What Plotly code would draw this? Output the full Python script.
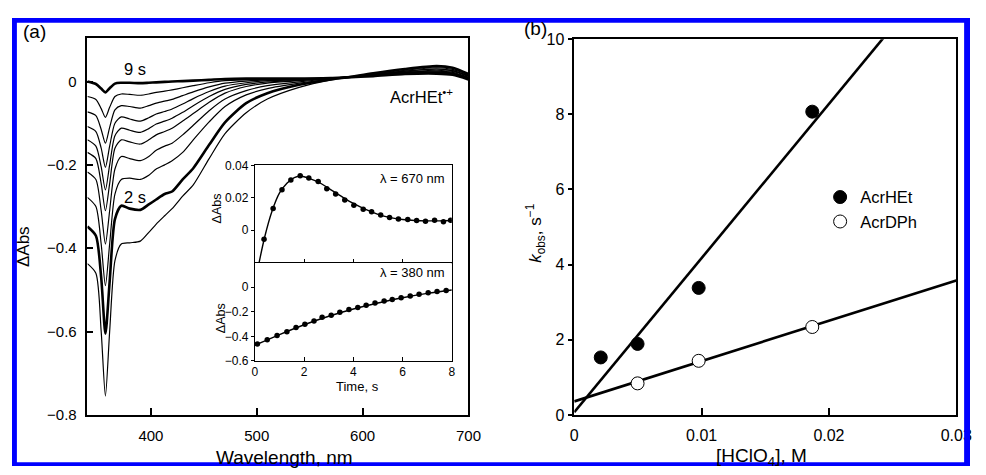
import plotly.graph_objects as go

# ---------------- data ----------------
wavelength = [340, 348, 353, 357, 361, 366, 372, 380, 390, 398, 405, 413, 420, 430,
              440, 455, 470, 490, 510, 540, 570, 585, 610, 640, 670, 685, 700]

spec_9s = [0.000, -0.006, -0.017, -0.026, -0.016, -0.005, -0.003, -0.003, -0.004, -0.003, -0.002, -0.001, 0.000, 0.001,
           0.002, 0.004, 0.006, 0.007, 0.007, 0.007, 0.008, 0.010, 0.013, 0.018, 0.019, 0.016, 0.005]
spec_b = [-0.036, -0.043, -0.065, -0.086, -0.062, -0.036, -0.030, -0.031, -0.033, -0.030, -0.026, -0.023, -0.020, -0.015,
          -0.010, -0.003, 0.002, 0.004, 0.005, 0.006, 0.008, 0.010, 0.014, 0.019, 0.021, 0.018, 0.006]
spec_c = [-0.073, -0.082, -0.115, -0.148, -0.110, -0.068, -0.058, -0.060, -0.064, -0.058, -0.052, -0.047, -0.043, -0.034,
          -0.025, -0.013, -0.004, 0.001, 0.004, 0.005, 0.008, 0.010, 0.014, 0.020, 0.022, 0.019, 0.008]
spec_d = [-0.108, -0.120, -0.160, -0.206, -0.155, -0.100, -0.085, -0.090, -0.095, -0.087, -0.078, -0.072, -0.066, -0.054,
          -0.041, -0.024, -0.011, -0.003, 0.002, 0.004, 0.008, 0.010, 0.015, 0.021, 0.023, 0.020, 0.009]
spec_e = [-0.140, -0.155, -0.205, -0.260, -0.200, -0.130, -0.112, -0.117, -0.122, -0.113, -0.102, -0.095, -0.088, -0.074,
          -0.058, -0.036, -0.019, -0.007, -0.001, 0.003, 0.008, 0.010, 0.015, 0.022, 0.025, 0.022, 0.010]
spec_f = [-0.170, -0.185, -0.245, -0.310, -0.245, -0.160, -0.140, -0.145, -0.150, -0.140, -0.128, -0.120, -0.112, -0.095,
          -0.077, -0.050, -0.028, -0.012, -0.004, 0.002, 0.007, 0.010, 0.016, 0.023, 0.027, 0.024, 0.012]
spec_g = [-0.217, -0.235, -0.310, -0.390, -0.310, -0.210, -0.180, -0.185, -0.190, -0.180, -0.165, -0.155, -0.148, -0.128,
          -0.105, -0.070, -0.042, -0.022, -0.010, -0.001, 0.007, 0.010, 0.017, 0.025, 0.030, 0.026, 0.014]
spec_h = [-0.278, -0.300, -0.390, -0.490, -0.390, -0.270, -0.235, -0.232, -0.235, -0.225, -0.210, -0.200, -0.190, -0.170,
          -0.140, -0.097, -0.060, -0.032, -0.017, -0.004, 0.006, 0.010, 0.018, 0.027, 0.033, 0.029, 0.016]
spec_2s = [-0.348, -0.370, -0.470, -0.605, -0.480, -0.330, -0.298, -0.305, -0.308, -0.295, -0.283, -0.270, -0.264, -0.235,
           -0.208, -0.152, -0.098, -0.052, -0.028, -0.008, 0.005, 0.010, 0.020, 0.030, 0.037, 0.033, 0.018]
spec_1 = [-0.437, -0.460, -0.600, -0.755, -0.600, -0.430, -0.390, -0.387, -0.383, -0.362, -0.342, -0.322, -0.305, -0.275,
          -0.248, -0.185, -0.125, -0.075, -0.042, -0.014, 0.004, 0.010, 0.017, 0.025, 0.030, 0.026, 0.013]

spectra = [spec_9s, spec_b, spec_c, spec_d, spec_e, spec_f, spec_g, spec_h, spec_2s, spec_1]
thick_spectra = [True, False, False, False, False, False, False, False, True, False]

# inset: 670 nm
time_670 = [0.37, 0.74, 1.10, 1.46, 1.84, 2.19, 2.57, 2.92, 3.28, 3.65, 4.02, 4.40, 4.74, 5.11, 5.47,
            5.83, 6.21, 6.57, 6.93, 7.30, 7.66, 7.95]
abs_670 = [-0.0056, 0.0134, 0.025, 0.031, 0.0336, 0.0322, 0.030, 0.0256, 0.0224, 0.0186, 0.0154, 0.013,
           0.0114, 0.0094, 0.0078, 0.007, 0.0066, 0.006, 0.0055, 0.0062, 0.0052, 0.0062]
fit_time_670 = [0.17, 0.4, 0.7, 1.0, 1.3, 1.6, 1.9, 2.2, 2.6, 3.0, 3.5, 4.0, 4.5, 5.0, 5.5, 6.0, 6.5, 7.0, 7.5, 8.0]
fit_abs_670 = [-0.02, -0.004, 0.012, 0.023, 0.029, 0.0325, 0.0333, 0.032, 0.0295, 0.0258, 0.021, 0.0165,
               0.0128, 0.0098, 0.0078, 0.0066, 0.006, 0.0058, 0.0058, 0.006]

# inset: 380 nm
time_380 = [0.1, 0.5, 0.9, 1.3, 1.67, 2.03, 2.4, 2.73, 3.1, 3.45, 3.82, 4.18, 4.52, 4.88, 5.25,
            5.58, 5.94, 6.31, 6.67, 7.04, 7.4, 7.77]
abs_380 = [-0.461, -0.427, -0.392, -0.363, -0.328, -0.301, -0.275, -0.245, -0.227, -0.203, -0.181, -0.165,
           -0.147, -0.128, -0.112, -0.099, -0.085, -0.072, -0.056, -0.045, -0.035, -0.027]
fit_time_380 = [0, 1, 2, 3, 4, 5, 6, 7, 8]
fit_abs_380 = [-0.472, -0.385, -0.305, -0.236, -0.177, -0.128, -0.085, -0.05, -0.022]

# panel (b)
hclo4_het = [0.00208, 0.00497, 0.00977, 0.01869]
kobs_het = [1.53, 1.89, 3.38, 8.07]
hclo4_dph = [0.00497, 0.00977, 0.01869]
kobs_dph = [0.84, 1.44, 2.34]
fit_x = [0.0, 0.03]
fit_het = [0.07, 12.38]
fit_dph = [0.36, 3.58]

# ---------------- layout helpers ----------------
# The page keeps the browser's 8 px body margin at the top-left, so the figure starts
# 8 px in; positions below are given in window pixels.
MARGIN = 8
FW, FH = 986 - MARGIN, 475 - MARGIN
FONT = "Liberation Sans, Arial, Helvetica, sans-serif"


def px(x):
    return (x - MARGIN) / FW


def py(y):
    return 1 - (y - MARGIN) / FH


fig = go.Figure()

for vals, thick in zip(spectra, thick_spectra):
    fig.add_trace(go.Scatter(x=wavelength, y=vals, mode="lines", xaxis="x", yaxis="y",
                             line=dict(color="black", width=2.6 if thick else 1.2, shape="spline", smoothing=0.7),
                             showlegend=False, hoverinfo="skip"))

# insets
fig.add_trace(go.Scatter(x=fit_time_670, y=fit_abs_670, mode="lines", xaxis="x2", yaxis="y2",
                         line=dict(color="black", width=1.4, shape="spline"), showlegend=False))
fig.add_trace(go.Scatter(x=time_670, y=abs_670, mode="markers", xaxis="x2", yaxis="y2",
                         marker=dict(color="black", size=5.5), showlegend=False))
fig.add_trace(go.Scatter(x=fit_time_380, y=fit_abs_380, mode="lines", xaxis="x3", yaxis="y3",
                         line=dict(color="black", width=1.4, shape="spline"), showlegend=False))
fig.add_trace(go.Scatter(x=time_380, y=abs_380, mode="markers", xaxis="x3", yaxis="y3",
                         marker=dict(color="black", size=5.5), showlegend=False))

# panel (b)
fig.add_trace(go.Scatter(x=fit_x, y=fit_het, mode="lines", xaxis="x4", yaxis="y4",
                         line=dict(color="black", width=2.6), showlegend=False))
fig.add_trace(go.Scatter(x=fit_x, y=fit_dph, mode="lines", xaxis="x4", yaxis="y4",
                         line=dict(color="black", width=2.6), showlegend=False))
fig.add_trace(go.Scatter(x=hclo4_het, y=kobs_het, mode="markers", xaxis="x4", yaxis="y4", name="AcrHEt",
                         marker=dict(color="black", size=13, line=dict(color="black", width=1))))
fig.add_trace(go.Scatter(x=hclo4_dph, y=kobs_dph, mode="markers", xaxis="x4", yaxis="y4", name="AcrDPh",
                         marker=dict(color="white", size=13, line=dict(color="black", width=1))))

axis_common = dict(showline=True, linecolor="black", mirror=True, showgrid=False, zeroline=False,
                   tickcolor="black")

fig.update_layout(
    width=FW, height=FH,
    margin=dict(l=0, r=0, t=0, b=0),
    paper_bgcolor="white", plot_bgcolor="white",
    font=dict(family=FONT, color="black"),
    xaxis=dict(domain=[px(85), px(474)], range=[340, 700], tickvals=[400, 500, 600, 700],
               ticks="inside", ticklen=7, tickwidth=1.5, linewidth=1.5, anchor="y",
               tickfont=dict(size=15), ticklabelstandoff=6, **axis_common),
    yaxis=dict(domain=[py(422), py(31)], range=[-0.8, 0.104], tickvals=[0, -0.2, -0.4, -0.6, -0.8],
               ticks="inside", ticklen=6, tickwidth=1.5, linewidth=1.5, anchor="x",
               tickfont=dict(size=15), ticklabelstandoff=6, **axis_common),
    xaxis2=dict(domain=[px(256), px(457)], range=[0, 8], tickvals=[0, 2, 4, 6, 8], showticklabels=False,
                ticks="inside", ticklen=4, tickwidth=1, linewidth=1.2, anchor="y2", **axis_common),
    yaxis2=dict(domain=[py(264), py(163)], range=[-0.02, 0.04], tickvals=[0, 0.02, 0.04],
                ticks="outside", ticklen=3, tickwidth=1, linewidth=1.2, anchor="x2",
                tickfont=dict(size=12), **axis_common),
    xaxis3=dict(domain=[px(256), px(457)], range=[0, 8], tickvals=[0, 2, 4, 6, 8],
                ticks="inside", ticklen=4, tickwidth=1, linewidth=1.2, anchor="y3",
                tickfont=dict(size=12), **axis_common),
    yaxis3=dict(domain=[py(366), py(264)], range=[-0.6, 0.2], tickvals=[0, -0.2, -0.4, -0.6],
                ticks="outside", ticklen=3, tickwidth=1, linewidth=1.2, anchor="x3",
                tickfont=dict(size=12), **axis_common),
    xaxis4=dict(domain=[px(582), px(972)], range=[0, 0.03], tickvals=[0, 0.01, 0.02, 0.03],
                ticks="inside", ticklen=7, tickwidth=1.5, linewidth=1.5, anchor="y4",
                tickfont=dict(size=16), ticklabelstandoff=5, **axis_common),
    yaxis4=dict(domain=[py(422), py(32)], range=[0, 10], tickvals=[0, 2, 4, 6, 8, 10],
                ticks="outside", ticklen=5, tickwidth=1.5, linewidth=1.5, anchor="x4",
                tickfont=dict(size=16), **axis_common),
    legend=dict(x=px(833), y=py(178), xanchor="left", yanchor="top", bgcolor="rgba(0,0,0,0)",
                font=dict(size=16.5), borderwidth=0),
)

ann = []


def text_ann(x, y, text, size, angle=0, xanchor="center", xref="paper", yref="paper"):
    ann.append(dict(x=x, y=y, xref=xref, yref=yref, text=text, showarrow=False, textangle=angle,
                    xanchor=xanchor, yanchor="middle", font=dict(size=size, family=FONT, color="black")))


text_ann(px(31), py(24), "(a)", 19)
text_ann(px(542), py(21), "(b)", 19)
text_ann(px(20), py(247), "ΔAbs", 17, angle=-90)
text_ann(px(286), py(466), "Wavelength, nm", 19)
text_ann(px(773), py(466), "[HClO<sub>4</sub>], M", 19)
text_ann(px(543), py(233), "<i>k</i><sub>obs</sub>, s<sup>−1</sup>", 17, angle=-90)
text_ann(px(217), py(208), "ΔAbs", 12.5, angle=-90)
text_ann(px(221), py(322), "ΔAbs", 12.5, angle=-90)
text_ann(px(361), py(393), "Time, s", 13)
text_ann(385, 0.03, "9 s", 16.5, xref="x", yref="y")
text_ann(385, -0.276, "2 s", 16.5, xref="x", yref="y")
text_ann(687, -0.035, "AcrHEt<sup>•+</sup>", 16.5, xanchor="right", xref="x", yref="y")
text_ann(7.8, 0.0322, "λ = 670 nm", 13, xanchor="right", xref="x2", yref="y2")
text_ann(7.8, 0.12, "λ = 380 nm", 13, xanchor="right", xref="x3", yref="y3")

fig.update_layout(annotations=ann)

# blue frame around the whole picture
BLUE = "#0000ff"
frame = [
    (8, 10, 13, 475),     # left band
    (8, 10, 986, 15),     # top band
    (980, 10, 986, 475),  # right band
    (8, 471, 986, 475),   # bottom band
]
for x0, y0, x1, y1 in frame:
    fig.add_shape(type="rect", xref="paper", yref="paper", x0=px(x0), x1=px(x1), y0=py(y1), y1=py(y0),
                  fillcolor=BLUE, line=dict(width=0), layer="above")

fig.write_html("out.html", config={"displayModeBar": False})
